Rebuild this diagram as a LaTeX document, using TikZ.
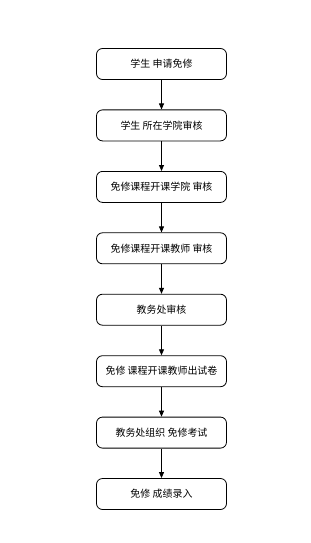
\documentclass[tikz,border=0pt]{standalone}
\usepackage{fontspec}
\newfontfamily\cjk{Noto Sans CJK SC}
\usetikzlibrary{arrows.meta, positioning}

\begin{document}
\begin{tikzpicture}[
    x=1bp, y=1bp,
    stepbox/.style = {rectangle, draw=black, fill=white, line width=0.8pt, rounded corners=6bp, align=center, font=\cjk\fontsize{10}{12}\selectfont, minimum width=130bp, minimum height=31bp, inner sep=2pt},
    arrow/.style = {draw=black, line width=0.8pt, -{Triangle[length=6bp,width=5bp]}}
]
\useasboundingbox (0,0) rectangle (310,-543);
\node (s1) [stepbox] at (161.5,-64) {学生 申请免修};
\node (s2) [stepbox] at (161.5,-125.4) {学生 所在学院审核};
\node (s3) [stepbox] at (161.5,-186.9) {免修课程开课学院 审核};
\node (s4) [stepbox] at (161.5,-248.3) {免修课程开课教师 审核};
\node (s5) [stepbox] at (161.5,-309.7) {教务处审核};
\node (s6) [stepbox] at (161.5,-371.2) {免修 课程开课教师出试卷};
\node (s7) [stepbox] at (161.5,-432.6) {教务处组织 免修考试};
\node (s8) [stepbox] at (161.5,-494) {免修 成绩录入};

\draw [arrow] (s1) -- (s2);
\draw [arrow] (s2) -- (s3);
\draw [arrow] (s3) -- (s4);
\draw [arrow] (s4) -- (s5);
\draw [arrow] (s5) -- (s6);
\draw [arrow] (s6) -- (s7);
\draw [arrow] (s7) -- (s8);
\end{tikzpicture}
\end{document}
